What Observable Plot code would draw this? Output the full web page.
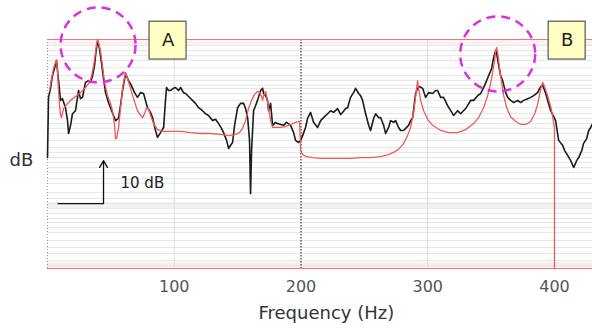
<!DOCTYPE html>
<html><head><meta charset="utf-8">
<script src="https://cdn.jsdelivr.net/npm/d3@7"></script>
<script src="https://cdn.jsdelivr.net/npm/@observablehq/plot@0.6"></script>
<style>
html,body{margin:0;padding:0;background:#fff;}
#chart svg{display:block;}
</style>
</head><body><div id="chart"></div>
<script>
// Measured response (black), frequency in Hz, level in relative dB
const blackFreq = [0,0.8,2.4,3.9,5.5,7.1,8.7,10.3,11.8,14.2,15.8,16.6,18.2,19.7,22.1,24.5,26.0,27.6,30.0,32.4,33.9,35.5,37.1,37.9,39.5,41.0,42.6,44.2,45.8,48.1,49.7,52.1,53.7,56.0,57.6,59.2,61.6,63.9,65.5,68.7,71.0,73.4,75.8,78.9,81.3,82.9,85.2,86.8,89.2,91.6,93.1,93.9,95.5,97.1,99.4,101.0,103.4,105.0,107.3,108.9,111.3,114.4,116.8,119.2,122.3,124.7,127.1,130.2,132.6,135.0,137.3,138.9,141.3,142.9,144.4,146.0,147.6,150.0,152.3,154.7,156.3,157.9,159.4,160.2,161.0,162.6,164.2,165.7,168.1,169.7,170.5,172.1,173.6,174.4,176.0,177.6,180.0,181.5,183.9,186.3,188.6,191.8,194.2,195.7,198.1,199.7,201.3,203.6,205.2,207.6,209.9,213.1,215.5,217.8,221.0,223.4,225.7,228.9,231.3,232.8,235.2,236.8,239.1,241.5,243.1,245.5,247.0,248.6,251.0,253.4,254.9,257.3,258.9,261.2,262.8,265.2,266.8,269.1,270.7,273.1,274.7,277.0,278.6,281.0,282.6,284.9,286.5,288.1,290.4,292.0,293.6,296.0,298.3,300.7,303.9,306.2,307.8,310.2,312.5,315.7,318.1,320.4,323.6,326.0,329.9,333.9,336.2,339.4,341.8,344.9,348.1,350.4,352.0,353.6,354.4,356.0,357.5,359.1,361.5,363.1,365.4,367.8,371.0,373.3,375.7,378.9,381.2,383.6,386.7,389.1,390.7,393.1,394.6,397.0,399.4,400.9,403.3,406.5,408.0,410.4,412.8,415.2,417.5,419.1,421.5,423.0,425.4,427.0,428.6,430.1];
const blackLevel = [25.8,39.8,41.9,44.9,46.5,48.4,43.7,39.1,39.5,37.4,34.4,31.4,33.3,36.0,36.7,41.4,39.5,39.8,43.3,43.7,43.3,44.7,47.2,49.5,53.0,51.2,47.9,44.2,40.9,38.6,37.4,35.6,34.4,34.9,37.9,41.4,45.3,43.7,43.0,40.9,39.8,40.9,40.7,37.4,36.3,35.1,32.1,30.5,31.6,32.8,39.1,42.1,41.4,41.4,41.9,42.1,41.4,42.1,40.9,40.7,40.0,39.1,38.4,37.4,36.7,36.0,35.6,34.4,34.7,33.7,32.6,31.6,29.8,27.9,28.6,29.3,33.3,37.4,38.4,38.4,37.2,35.1,29.8,17.4,27.4,36.7,37.9,39.1,41.4,41.9,40.7,40.2,39.1,36.7,38.4,33.3,34.0,33.7,33.5,33.3,34.0,33.3,31.6,29.8,29.3,29.8,30.9,32.8,34.9,36.3,34.0,32.8,34.4,35.1,36.0,36.7,36.3,37.2,35.8,36.3,37.2,37.4,39.8,40.9,41.9,40.7,40.2,39.1,36.0,33.3,32.1,34.9,36.0,35.1,35.1,33.3,31.4,32.8,34.4,34.0,34.4,32.8,32.1,32.1,32.6,33.3,34.4,35.1,40.7,41.9,42.3,41.9,39.8,40.9,40.7,41.4,41.4,39.8,39.8,37.9,36.7,35.6,36.7,36.0,37.2,39.1,39.1,40.2,40.7,42.6,44.9,46.5,49.1,50.7,50.0,47.2,44.9,43.7,40.9,39.8,39.1,38.6,39.1,38.6,39.1,39.5,39.8,40.2,40.9,42.3,42.6,40.7,39.1,36.7,35.3,34.4,29.8,28.6,27.4,26.3,25.1,23.5,25.1,25.8,27.4,29.1,30.2,32.1,32.8,33.7];

// Model response (red)
const redFreq = [1.6,3.2,4.7,6.3,7.1,7.9,8.7,9.5,10.3,11.0,12.6,15.0,18.2,22.1,26.0,30.0,33.1,34.7,36.3,37.9,38.7,39.5,40.3,41.8,43.4,45.0,47.4,49.7,51.3,52.9,53.7,54.5,56.0,57.6,59.2,60.8,61.6,63.1,65.5,67.9,71.0,73.4,75.0,76.6,78.1,79.7,81.3,83.7,86.8,90.8,97.1,105.0,112.9,120.8,128.6,136.5,142.9,148.4,151.5,153.9,156.3,158.6,161.0,163.4,165.7,167.3,168.9,169.7,170.5,172.1,172.8,174.4,176.0,177.6,180.7,183.9,187.8,191.8,195.7,198.9,199.7,201.3,204.4,209.2,215.5,223.4,231.3,239.1,247.0,254.9,262.8,269.1,273.1,277.0,281.0,284.1,286.5,288.9,290.4,291.2,292.0,292.8,294.4,296.8,299.9,303.9,310.2,316.5,323.6,329.9,336.2,340.2,344.1,347.3,349.6,351.2,352.8,353.6,354.4,355.2,356.7,358.3,359.9,362.3,365.4,369.4,373.3,377.3,381.2,384.4,386.7,388.3,389.9,390.7,392.2,394.6,397.0,398.6,400,400];
const redLevel = [41.4,44.2,46.5,47.9,48.4,46.0,41.4,37.9,35.6,35.1,37.2,38.1,39.1,40.0,40.9,42.1,43.3,44.7,47.0,50.2,52.3,53.0,52.6,50.7,47.2,43.3,40.2,38.4,36.7,33.3,30.2,30.2,32.6,37.2,41.9,44.7,45.6,44.2,41.9,39.5,36.7,35.6,35.1,36.0,37.4,37.2,35.6,33.7,32.3,31.9,31.9,31.9,31.6,31.4,31.4,31.2,30.9,31.2,31.6,32.6,34.4,37.2,39.1,40.5,41.2,40.9,40.0,39.1,40.2,41.2,40.2,37.2,34.4,32.8,32.8,32.8,33.0,33.5,34.0,34.2,27.4,26.5,26.0,25.8,25.6,25.6,25.6,25.6,25.8,25.8,26.0,26.5,27.0,27.7,29.1,30.9,32.8,36.3,39.8,41.9,43.7,41.9,39.1,36.7,34.7,33.3,32.1,31.6,31.6,32.3,33.7,35.1,37.4,40.2,43.0,45.6,48.4,50.7,51.4,50.2,46.5,43.3,40.2,37.4,35.3,34.2,33.5,33.5,34.2,36.0,38.1,40.5,42.6,43.3,42.3,40.2,37.7,35.3,32.6,0];

const xTicks = [100, 200, 300, 400];
const xDomain = [0, 430];
const yDomain = [0, 53.26];
const gridLevels = [51.9,50.7,49.5,48.4,46.7,44.9,43.7,42.6,41.9,40.7,39.1,37.4,36.0,34.9,33.7,32.6,31.4,29.8,28.1,27.0,25.8,24.7,23.5,22.3,20.9,19.8,17.7,16.3,15.1,14.0,12.8,11.6,10.7,9.5,8.4,6.5,4.9,3.5,1.9,0.7];
const bands = [{y1: 51.9, y2: 53.26, fill: "#fdf1f1"}, {y1: 14.0, y2: 15.3, fill: "#f2f2f2"}, {y1: 0, y2: 1.4, fill: "#fdeeee"}];
const lightVerticals = [100, 300];
const dottedVerticals = [200];

// Annotations
const circles = [{f: 39.9, l: 52.0}, {f: 355.2, l: 49.9}];
const boxes = [{label: "A", f1: 80.5, f2: 109.7}, {label: "B", f1: 395.4, f2: 424.6}];
const boxLevels = [48.6, 57.4];
const scaleBar = {f0: 7.9, f1: 44.2, l0: 15.1, step: 10, text: "10 dB", tf: 57.6, tl: 19.8};
const yLabel = "dB";
const xLabel = "Frequency (Hz)";

const black = blackFreq.map((f, i) => ({f, l: blackLevel[i]}));
const red = redFreq.map((f, i) => ({f, l: redLevel[i]}));

const chart = Plot.plot({
  width: 592,
  height: 331,
  marginLeft: 47,
  marginRight: 0,
  marginTop: 39,
  marginBottom: 63,
  style: {fontFamily: "DejaVu Sans", background: "#fff", overflow: "visible"},
  x: {domain: xDomain},
  y: {domain: yDomain, axis: null},
  marks: [
    Plot.rect(bands, {x1: xDomain[0], x2: xDomain[1], y1: "y1", y2: "y2", fill: "fill"}),
    Plot.ruleY(gridLevels, {stroke: "#e6e6e6", strokeWidth: 1}),
    Plot.ruleX(lightVerticals, {stroke: "#dcdcdc", strokeWidth: 1}),
    Plot.ruleX([0], {stroke: "#999", strokeWidth: 1, strokeDasharray: "1,2"}),
    Plot.ruleX(dottedVerticals, {stroke: "#333", strokeWidth: 1.2, strokeDasharray: "1.5,1.5"}),
    Plot.ruleY([yDomain[0], yDomain[1]], {stroke: "#ea7a7a", strokeWidth: 1.2}),
    Plot.line(black, {x: "f", y: "l", stroke: "#1c1c1c", strokeWidth: 1.6}),
    Plot.line(red, {x: "f", y: "l", stroke: "#f05a5a", strokeWidth: 1.3}),
    Plot.axisX({ticks: xTicks, tickSize: 0, tickPadding: 12, fontSize: 16, color: "#555", label: null}),
    Plot.text([xLabel], {x: 220, frameAnchor: "bottom", dy: 45, fontSize: 18, fill: "#333", lineAnchor: "middle"}),
    Plot.text([yLabel], {y: 25.1, frameAnchor: "left", dx: -26, fontSize: 18, fill: "#333", textAnchor: "middle", lineAnchor: "middle"}),
    // 10 dB scale bar
    Plot.link([scaleBar], {x1: "f0", x2: "f1", y1: "l0", y2: "l0", stroke: "#111", strokeWidth: 1.3}),
    Plot.arrow([scaleBar], {x1: "f1", x2: "f1", y1: "l0", y2: d => d.l0 + d.step, stroke: "#111", strokeWidth: 1.3, headLength: 9, bend: 0}),
    Plot.text([scaleBar], {x: "tf", y: "tl", text: "text", textAnchor: "start", fontSize: 15, fill: "#222", lineAnchor: "middle"}),
    // dashed circles
    Plot.dot(circles, {x: "f", y: "l", r: 37.5, stroke: "#dd30dd", strokeWidth: 2.5, strokeDasharray: "9,6", fill: "none"}),
    // label boxes
    Plot.rect(boxes, {x1: "f1", x2: "f2", y1: boxLevels[0], y2: boxLevels[1], fill: "#ffffc4", stroke: "#555", strokeWidth: 1.2}),
    Plot.text(boxes, {x: d => (d.f1 + d.f2) / 2, y: (boxLevels[0] + boxLevels[1]) / 2, text: "label", fontSize: 18, fill: "#222", lineAnchor: "middle"})
  ]
});
document.getElementById("chart").appendChild(chart);
</script>
</body></html>
